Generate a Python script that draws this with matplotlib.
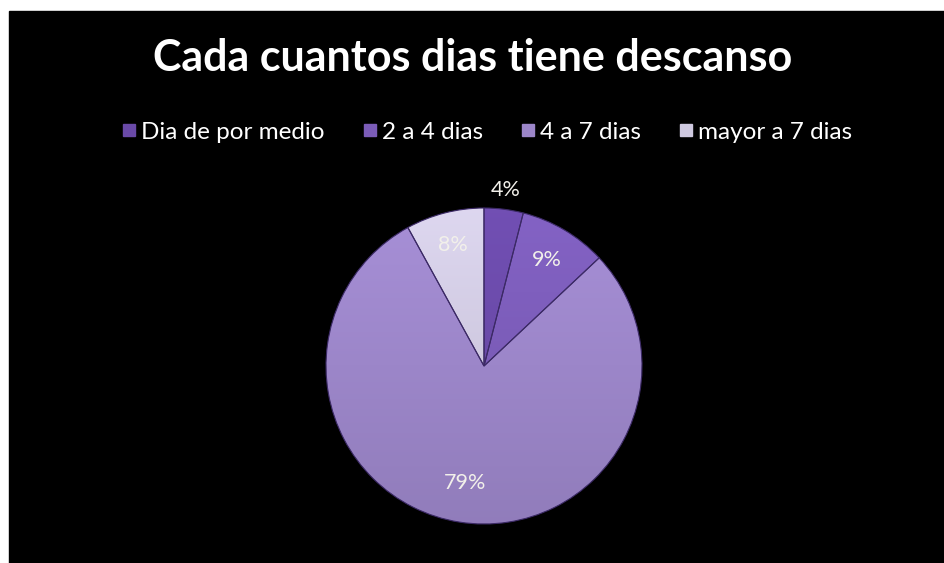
import numpy as np
import matplotlib.pyplot as plt
from matplotlib.patches import Rectangle
from matplotlib.lines import Line2D

categorias = ["Dia de por medio", "2 a 4 dias", "4 a 7 dias", "mayor a 7 dias"]
porcentajes = [4, 9, 79, 8]
colores = ["#6a4aa8", "#7b5cb8", "#9c86c9", "#cfc9e0"]
dist_etiqueta = [1.12, 0.78, 0.75, 0.79]

plt.rcParams["font.family"] = ["Lato", "DejaVu Sans"]

W, H = 945, 563
fig = plt.figure(figsize=(W / 100, H / 100), dpi=100)
fig.patch.set_facecolor("white")
# black chart area with a thin white margin on the left and top
fig.add_artist(Rectangle((9 / W, -0.05), 1.1, (H - 11) / H + 0.05,
                         transform=fig.transFigure, color="black", zorder=0))

fig.text(0.5, (H - 58) / H, "Cada cuantos dias tiene descanso", ha="center",
         va="center", color="white", fontsize=31, fontweight="bold")

handles = [Line2D([], [], marker="s", linestyle="none", markersize=9,
                  markerfacecolor=c, markeredgecolor=c) for c in colores]
fig.legend(handles, categorias, loc="center", bbox_to_anchor=(0.515, (H - 132) / H),
           ncol=4, frameon=False, fontsize=17.5, labelcolor="white",
           handletextpad=0.15, columnspacing=1.5, handlelength=0.7)

# pie: centre (484, 366) px, radius 158 px
cx, cy, r = 484, 366, 158
ax = fig.add_axes([(cx - r) / W, (H - cy - r) / H, 2 * r / W, 2 * r / H])
wedges, _ = ax.pie(porcentajes, colors=colores, startangle=90, counterclock=False,
                   wedgeprops=dict(edgecolor="#3c2a66", linewidth=0.8))
ax.set_xlim(-1, 1)
ax.set_ylim(-1, 1)
ax.set_aspect("equal")

# vertical shading on each wedge, lighter at top and darker at bottom
yy = np.linspace(1, -1, 200)[:, None] * np.ones((1, 200))
for w, c in zip(wedges, colores):
    base = np.array(plt.matplotlib.colors.to_rgb(c))
    fac = 1.0 + 0.07 * yy
    img = np.clip(base[None, None, :] * fac[:, :, None], 0, 1)
    im = ax.imshow(img, extent=(-1, 1, -1, 1), zorder=w.get_zorder() + 0.1,
                   interpolation="bilinear")
    im.set_clip_path(w)
    w.set_zorder(w.get_zorder() + 0.2)
    w.set_facecolor("none")

# percentage labels at each wedge's mid angle
for w, p, d in zip(wedges, porcentajes, dist_etiqueta):
    ang = np.deg2rad((w.theta1 + w.theta2) / 2)
    ax.text(d * np.cos(ang), d * np.sin(ang), f"{p}%", ha="center", va="center",
            color="#f2f0ea", fontsize=15.5, zorder=5)

fig.savefig("out.png", dpi=100, facecolor=fig.get_facecolor())
